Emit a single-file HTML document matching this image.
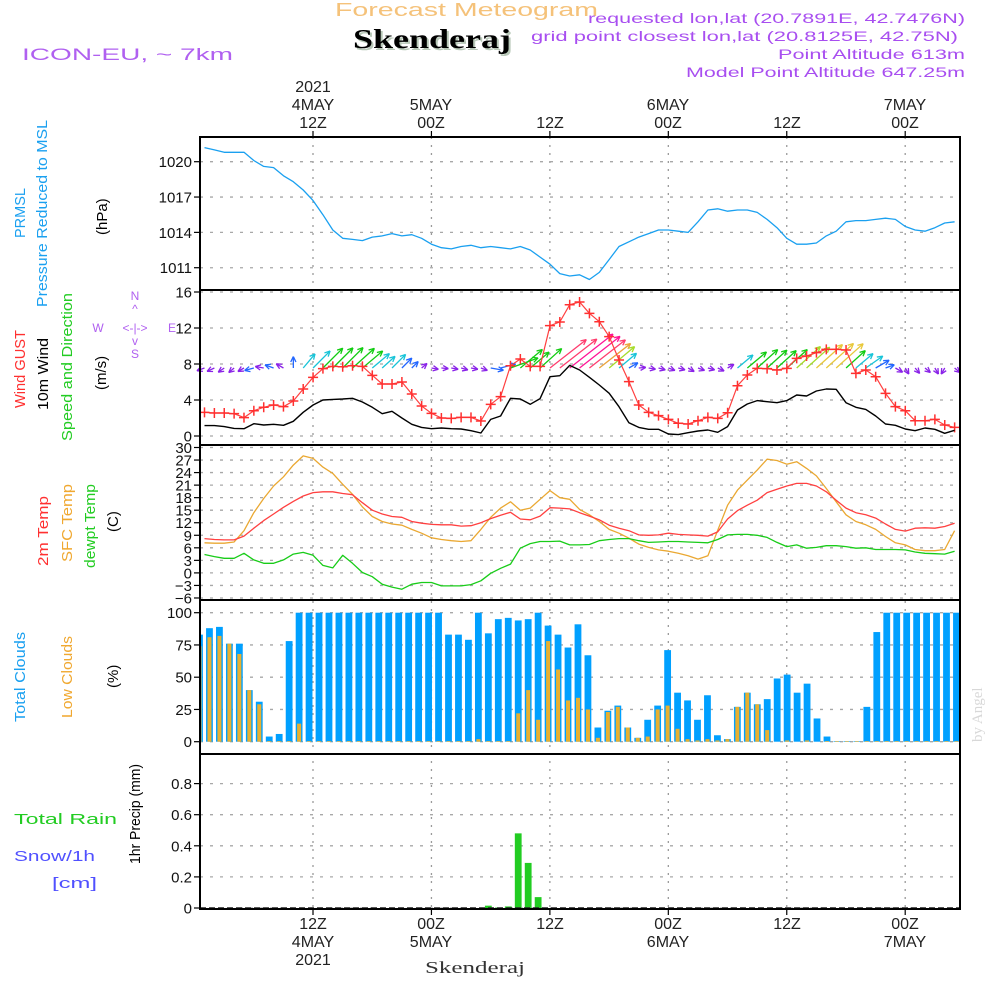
<!DOCTYPE html>
<html><head><meta charset="utf-8"><title>Meteogram Skenderaj</title>
<style>
html,body{margin:0;padding:0;background:#fff;}
svg{display:block;font-family:"Liberation Sans",sans-serif;}
.tk{font-size:15px;fill:#111;text-anchor:end;}
.ax{font-size:16px;fill:#222;text-anchor:middle;}
.lab{font-size:15px;}
</style></head>
<body>
<svg id="chart" width="1000" height="1000" viewBox="0 0 1000 1000" xmlns="http://www.w3.org/2000/svg">
<rect x="0" y="0" width="1000" height="1000" fill="#fff"/>
<!-- header -->
<text x="335" y="16" font-size="18" fill="#f5c27a" textLength="263" lengthAdjust="spacingAndGlyphs">Forecast Meteogram</text>
<text x="355" y="50" font-family="Liberation Serif, serif" font-weight="bold" font-size="27" fill="#b8c8b8" textLength="158" lengthAdjust="spacingAndGlyphs">Skenderaj</text>
<text x="353" y="48" font-family="Liberation Serif, serif" font-weight="bold" font-size="27" fill="#000" textLength="158" lengthAdjust="spacingAndGlyphs">Skenderaj</text>
<text x="22" y="60" font-size="17" fill="#b060f0" textLength="211" lengthAdjust="spacingAndGlyphs">ICON-EU, ~ 7km</text>
<g font-size="14" fill="#a84ef0">
<text x="588" y="23" textLength="377" lengthAdjust="spacingAndGlyphs">requested lon,lat (20.7891E, 42.7476N)</text>
<text x="531" y="41" textLength="427" lengthAdjust="spacingAndGlyphs">grid point closest lon,lat (20.8125E, 42.75N)</text>
<text x="778" y="59" textLength="187" lengthAdjust="spacingAndGlyphs">Point Altitude 613m</text>
<text x="686" y="77" textLength="279" lengthAdjust="spacingAndGlyphs">Model Point Altitude 647.25m</text>
</g>
<!-- top time axis -->
<g class="ax">
<text x="313" y="92">2021</text><text x="313" y="110">4MAY</text><text x="313" y="128">12Z</text>
<text x="431" y="110">5MAY</text><text x="431" y="128">00Z</text>
<text x="550" y="128">12Z</text>
<text x="668" y="110">6MAY</text><text x="668" y="128">00Z</text>
<text x="787" y="128">12Z</text>
<text x="905" y="110">7MAY</text><text x="905" y="128">00Z</text>
</g>
<!-- bottom time axis -->
<g class="ax">
<text x="313" y="929">12Z</text><text x="313" y="947">4MAY</text><text x="313" y="965">2021</text>
<text x="431" y="929">00Z</text><text x="431" y="947">5MAY</text>
<text x="550" y="929">12Z</text>
<text x="668" y="929">00Z</text><text x="668" y="947">6MAY</text>
<text x="787" y="929">12Z</text>
<text x="905" y="929">00Z</text><text x="905" y="947">7MAY</text>
</g>
<text x="425" y="973" font-family="Liberation Serif, serif" font-size="17" fill="#333" textLength="100" lengthAdjust="spacingAndGlyphs">Skenderaj</text>
<text transform="translate(982,742) rotate(-90)" font-family="Liberation Serif, serif" font-size="15" fill="#d8d8d8">by Angel</text>

<!-- left labels -->
<g class="lab" lengthAdjust="spacingAndGlyphs">
<text transform="translate(25,238) rotate(-90)" fill="#1aa0f0" textLength="50" lengthAdjust="spacingAndGlyphs">PRMSL</text>
<text transform="translate(47,307) rotate(-90)" fill="#1aa0f0" textLength="187" lengthAdjust="spacingAndGlyphs">Pressure Reduced to MSL</text>
<text transform="translate(107,235) rotate(-90)" fill="#000">(hPa)</text>
<text transform="translate(25,408) rotate(-90)" fill="#ff3030" textLength="78" lengthAdjust="spacingAndGlyphs">Wind GUST</text>
<text transform="translate(48,410) rotate(-90)" fill="#000" textLength="72" lengthAdjust="spacingAndGlyphs">10m Wind</text>
<text transform="translate(72,441) rotate(-90)" fill="#22cc22" textLength="148" lengthAdjust="spacingAndGlyphs">Speed and Direction</text>
<text transform="translate(106,390) rotate(-90)" fill="#000">(m/s)</text>
<text transform="translate(48,566) rotate(-90)" fill="#ff3030" textLength="70" lengthAdjust="spacingAndGlyphs">2m Temp</text>
<text transform="translate(72,562) rotate(-90)" fill="#f0a830" textLength="78" lengthAdjust="spacingAndGlyphs">SFC Temp</text>
<text transform="translate(95,568) rotate(-90)" fill="#22cc22" textLength="84" lengthAdjust="spacingAndGlyphs">dewpt Temp</text>
<text transform="translate(118,532) rotate(-90)" fill="#000">(C)</text>
<text transform="translate(25,722) rotate(-90)" fill="#1aa0f0" textLength="90" lengthAdjust="spacingAndGlyphs">Total Clouds</text>
<text transform="translate(72,718) rotate(-90)" fill="#f0a830" textLength="82" lengthAdjust="spacingAndGlyphs">Low Clouds</text>
<text transform="translate(118,688) rotate(-90)" fill="#000">(%)</text>
<text transform="translate(140,864) rotate(-90)" fill="#000" textLength="100" lengthAdjust="spacingAndGlyphs">1hr Precip (mm)</text>
</g>
<text x="14" y="824" font-size="15" fill="#22cc22" textLength="103" lengthAdjust="spacingAndGlyphs">Total   Rain</text>
<text x="14" y="861" font-size="15" fill="#5050ff" textLength="81" lengthAdjust="spacingAndGlyphs">Snow/1h</text>
<text x="52" y="888" font-size="15" fill="#5050ff" textLength="45" lengthAdjust="spacingAndGlyphs">[cm]</text>
<g font-size="12" fill="#b060f0" text-anchor="middle">
<text x="135" y="300">N</text><text x="135" y="313">^</text>
<text x="98" y="332">W</text><text x="135" y="332">&lt;-|-&gt;</text><text x="172" y="332">E</text>
<text x="135" y="345">v</text><text x="135" y="358">S</text>
</g>

<g id="grid"></g>
<g id="marks"></g>
<g id="frames"></g>
<g id="ticks"></g>
</svg>
<script>
// ---- data (hourly, from 4 May 01Z) ----
const pressure = [1021.2,1021.0,1020.8,1020.8,1020.8,1020.1,1019.6,1019.5,1018.8,1018.3,
1017.6,1016.7,1015.5,1014.2,1013.5,1013.4,1013.3,1013.6,1013.7,1013.9,
1013.7,1013.8,1013.5,1013.0,1012.7,1012.6,1012.8,1012.9,1012.7,1012.8,
1012.7,1012.6,1012.8,1012.5,1011.9,1011.3,1010.5,1010.3,1010.4,1010.0,
1010.6,1011.7,1012.8,1013.2,1013.6,1013.9,1014.2,1014.2,1014.1,1014.0,
1014.9,1015.9,1016.0,1015.8,1015.9,1015.9,1015.7,1015.1,1014.4,1013.5,
1013.0,1013.0,1013.1,1013.7,1014.1,1014.9,1015.0,1015.0,1015.1,1015.2,
1015.1,1014.5,1014.2,1014.1,1014.4,1014.8,1014.9];
const wind10m = [1.15,1.15,1.04,0.85,0.81,1.37,1.22,1.30,1.19,1.63,2.63,3.44,4.0,4.07,4.11,4.19,3.78,3.19,2.48,2.74,2.0,1.30,0.96,0.81,0.89,0.81,0.78,0.59,0.33,1.85,2.22,4.19,4.11,3.52,4.15,6.59,6.7,7.85,7.33,
6.52,5.67,4.74,3.26,1.48,0.96,0.74,0.74,0.22,0.15,0.37,0.56,0.67,0.41,1.04,2.89,3.56,3.93,3.81,3.70,3.93,4.56,4.44,5.0,5.22,5.19,3.70,3.19,2.96,2.22,1.33,1.19,0.78,0.59,0.89,0.74,0.30,0.63];
const windGust = [2.63,2.56,2.56,2.48,2.04,2.81,3.19,3.44,3.26,3.89,5.22,6.52,7.48,7.74,7.70,7.81,7.74,6.74,5.78,5.78,6.0,4.67,3.33,2.52,2.0,1.96,2.07,2.07,1.67,3.52,4.37,7.81,8.56,7.74,7.74,12.26,12.67,14.59,14.89,
13.63,12.70,11.04,8.44,6.04,3.44,2.63,2.26,1.85,1.41,1.33,1.70,2.07,1.96,2.59,5.59,6.78,7.52,7.48,7.33,7.52,8.63,8.89,9.26,9.63,9.63,9.56,6.96,7.33,6.59,4.74,3.26,2.81,1.70,1.70,1.85,1.22,0.96];
const windDir = [200,205,215,220,210,195,170,160,150,90,
50,45,45,45,45,42,40,40,42,45,45,45,40,
-10,-5,-10,-15,-10,-20,-10,
15,20,40,40,42,
38,38,38,38,38,38,40,40,30,
5,-10,-15,-20,-15,-30,-20,-15,-25,
30,40,40,42,42,42,42,42,42,42,42,42,42,40,
35,30,20,-30,-60,-50,-40,-60,-120,-40];
const temp2m = [8.2,8.0,7.9,7.9,8.8,10.7,12.5,14.1,15.7,17.1,18.4,19.2,19.4,19.4,19.0,18.7,16.8,15.0,14.1,13.5,13.3,12.3,11.9,11.6,11.5,11.5,11.2,11.3,12.0,13.0,13.8,14.5,12.9,12.7,13.6,15.6,15.5,15.3,14.4,
13.6,12.7,11.4,10.7,10.1,9.1,9.0,9.1,9.5,9.2,9.1,9.0,8.8,9.8,12.9,14.9,16.2,17.4,19.2,20.0,20.8,21.4,21.4,20.8,19.4,17.4,15.5,14.4,13.9,13.1,11.7,10.4,10.0,10.7,10.8,10.7,11.1,11.9];
const tempSfc = [7.2,7.1,7.1,7.4,10.1,14.4,17.8,20.8,23.0,25.8,28.0,27.4,25.3,23.8,21.2,18.8,15.8,13.5,12.3,11.7,11.4,10.4,9.5,8.4,8.0,7.7,7.5,7.7,10.4,13.3,15.5,17.0,15.0,15.5,17.6,19.7,18.0,17.6,15.2,
13.9,12.3,10.4,9.5,8.3,6.9,6.1,5.5,5.2,4.7,4.1,3.3,4.1,10.2,16.2,19.8,22.2,24.6,27.2,26.9,26.0,26.6,25.0,23.2,20.2,17.0,13.9,12.3,11.5,10.4,8.7,7.2,6.7,5.6,5.3,5.3,5.6,10.1];
const dewpoint = [4.4,3.9,3.5,3.5,4.7,3.1,2.3,2.3,3.1,4.5,4.9,4.2,1.8,1.2,4.2,2.3,0.1,-0.9,-2.7,-3.4,-3.9,-2.7,-2.3,-2.3,-3.1,-3.1,-3.1,-2.8,-1.9,-0.1,1.1,2.1,5.9,7.0,7.5,7.5,7.6,6.7,6.7,
6.8,7.7,8.0,8.2,8.2,7.7,7.3,7.4,7.5,7.5,7.4,7.3,7.2,8.0,9.1,9.2,9.2,9.0,8.5,7.3,6.3,6.7,5.9,6.1,6.5,6.5,6.3,5.9,6.0,5.6,5.6,5.6,5.5,5.0,4.7,4.6,4.5,5.2];
const totalClouds = [83,88,89,76,76,40,31,4,6,78,100,100,100,100,100,100,100,100,100,100,100,100,100,100,100,
83,83,79,100,84,95,96,94,95,100,90,83,73,91,67,11,24,28,11,3,17,28,71,38,32,17,36,5,2,27,38,29,33,49,52,38,45,18,4,0.5,0.5,0.5,27,85,100,100,100,100,100,100,100,100];
const lowClouds = [74,81,82,76,68,40,29,0.5,0.5,0.5,14,0.5,0.5,0.5,0.5,0.5,0.5,0.5,0.5,0.5,0.5,0.5,0.5,0.5,0.5,
0.5,0.5,0.5,2,0.5,0.5,0.5,22,40,17,78,56,32,34,25,3,23,27,11,3,4,25,28,10,2,1,2,1,2,27,38,29,9,0,1,0,1,0,0.5,0.5,0.5,0.5,0.5,0.5,0.5,0.5,0.5,0.5,0.5,0.5,0.5,0.5];
const precip = [0,0,0,0,0,0,0,0,0,0,0,0,0,0,0,0,0,0,0,0,0,0,0,0,0,0,0,0,0,0.015,0.003,0.01,0.48,0.29,0.07,0,0,0,0,0,
0,0,0,0,0,0,0,0,0,0,0,0,0,0,0,0,0,0,0,0,0,0,0,0,0,0,0,0,0,0,0,0,0,0,0,0,0];
const pressureTicks = [1020,1017,1014,1011];
const windTicks = [0,4,8,12,16];
const tempTicks = [30,27,24,21,18,15,12,9,6,3,0,-3,-6];
const cloudTicks = [0,25,50,75,100];
const precipTicks = [0,0.2,0.4,0.6,0.8];
const precipTickLabels = ["0","0.2","0.4","0.6","0.8"];
const timeGridHours = [11,23,35,47,59,71];

// ---- axis functions ----
const X0=200, X1=960;
function xl(i){return 204.5+9.87*i;}
function xb(i){return 199.5+9.96*i;}
function xg(h){return 313+(h-11)*9.87;}
function yP(p){return 161.7+(1020-p)*11.78;}
function yW(v){return 436-9*v;}
function yT(t){return 447.5+(30-t)*4.18;}
function yC(c){return 741.7-1.29*c;}
function yR(r){return 908-155.5*r;}

const NS="http://www.w3.org/2000/svg";
function mk(tag,attrs,parent){const e=document.createElementNS(NS,tag);for(const k in attrs)e.setAttribute(k,attrs[k]);parent.appendChild(e);return e;}
const grid=document.getElementById('grid'), marks=document.getElementById('marks'), frames=document.getElementById('frames'), ticks=document.getElementById('ticks');

const panels=[[137,290],[290,445],[445,600],[600,754],[754,909]];
timeGridHours.forEach(h=>{
  const l=mk('line',{x1:xg(h),x2:xg(h),y1:137,y2:909,stroke:'#9a9a9a','stroke-width':1.3,'stroke-dasharray':'2,6'},grid);
  
  
  mk('line',{x1:xg(h),x2:xg(h),y1:131,y2:137,stroke:'#000','stroke-width':1.2},ticks);
  mk('line',{x1:xg(h),x2:xg(h),y1:909,y2:915,stroke:'#000','stroke-width':1.2},ticks);
});
function hgrid(vals,yf,labels,name){
  vals.forEach((v,k)=>{
    const y=yf(v);
    const l=mk('line',{x1:X0,x2:X1,y1:y,y2:y,stroke:'#a8a8a8','stroke-width':1.3,'stroke-dasharray':'3,7'},grid);
    
    
    mk('line',{x1:X0-6,x2:X0,y1:y,y2:y,stroke:'#000','stroke-width':1.2},ticks);
    const t=mk('text',{x:X0-8,y:y+5.5,class:'tk'},ticks);
    t.textContent=labels?labels[k]:String(v);
    
    
  });
}
hgrid(pressureTicks,yP,null,'pressure');
hgrid(windTicks,yW,null,'wind');
hgrid(tempTicks,yT,tempTicks.map(v=>v<0?'\u2212'+(-v):String(v)),'temp');
hgrid(cloudTicks,yC,null,'cloud');
hgrid(precipTicks,yR,precipTickLabels,'precip');

panels.forEach((p,k)=>{
  const r=mk('rect',{x:X0,y:p[0],width:X1-X0,height:p[1]-p[0],fill:'none',stroke:'#000','stroke-width':2},frames);
  
  
});

function poly(vals,xf,yf,color,name,w){
  const pts=vals.map((v,i)=>xf(i).toFixed(1)+','+yf(v).toFixed(1)).join(' ');
  const e=mk('polyline',{points:pts,fill:'none',stroke:color,'stroke-width':w||1.3,'stroke-linejoin':'round'},marks);
  
  
  return e;
}
poly(pressure,xl,yP,'#1aa0f0','pressure-line');

function windColor(s){
  if(s<1.3)return '#8a22e8';
  if(s<2.3)return '#2266ff';
  if(s<3.5)return '#18c4d8';
  if(s<4.3)return '#11cc11';
  if(s<4.9)return '#a6dc2a';
  if(s<5.4)return '#e8c83a';
  if(s<6.2)return '#eba33a';
  if(s<7.0)return '#ff3c6e';
  return '#ff1496';
}
wind10m.forEach((s,i)=>{
  const a=windDir[i]*Math.PI/180, len=Math.max(7,7*s);
  const x0=xl(i), y0=368, x1=x0+len*Math.cos(a), y1=y0-len*Math.sin(a);
  const c=windColor(s);
  const g=mk('g',{stroke:c,'stroke-width':1.3,fill:'none'},marks);
  
  
  mk('line',{x1:x0,y1:y0,x2:x1,y2:y1},g);
  const hl=6;
  [a+Math.PI-0.45,a+Math.PI+0.45].forEach(b=>{
    mk('line',{x1:x1,y1:y1,x2:x1+hl*Math.cos(b),y2:y1-hl*Math.sin(b)},g);
  });
});
poly(windGust,xl,yW,'#ff4040','wind-gust-line',1.2);
windGust.forEach((v,i)=>{
  const x=xl(i), y=yW(v);
  const m=mk('path',{d:`M${x-5},${y}H${x+5}M${x},${y-5}V${y+5}`,stroke:'#ff3030','stroke-width':1.5},marks);
  
  
});
poly(wind10m,xl,yW,'#000','wind-10m-line',1.4);

poly(tempSfc,xl,yT,'#eaa832','sfc-temp-line');
poly(temp2m,xl,yT,'#ff4040','temp-2m-line');
poly(dewpoint,xl,yT,'#18cc18','dewpoint-line');

totalClouds.forEach((v,i)=>{
  const x=xb(i), y=yC(v);
  const x0=Math.max(X0,x-3.4), x1=Math.min(X1,x+3.4);
  const r=mk('rect',{x:x0,y:y,width:Math.max(0,x1-x0),height:yC(0)-y,fill:'#00a0ff'},marks);
  
  
});
lowClouds.forEach((v,i)=>{
  const x=xb(i), y=yC(v);
  const x0=Math.max(X0,x-2), x1=Math.min(X1,x+2);
  const r=mk('rect',{x:x0,y:y,width:Math.max(0,x1-x0),height:yC(0)-y,fill:'#e8b030'},marks);
  
  
});
precip.forEach((v,i)=>{
  if(v<=0)return;
  const x=xb(i), y=yR(v);
  const r=mk('rect',{x:x-3.4,y:y,width:6.8,height:yR(0)-y,fill:'#22cc22'},marks);
  
  
});
const zl=mk('line',{x1:X0,x2:X1,y1:yR(0),y2:yR(0),stroke:'#222','stroke-width':1.5,'stroke-dasharray':'6,3'},marks);


</script>
</body></html>
